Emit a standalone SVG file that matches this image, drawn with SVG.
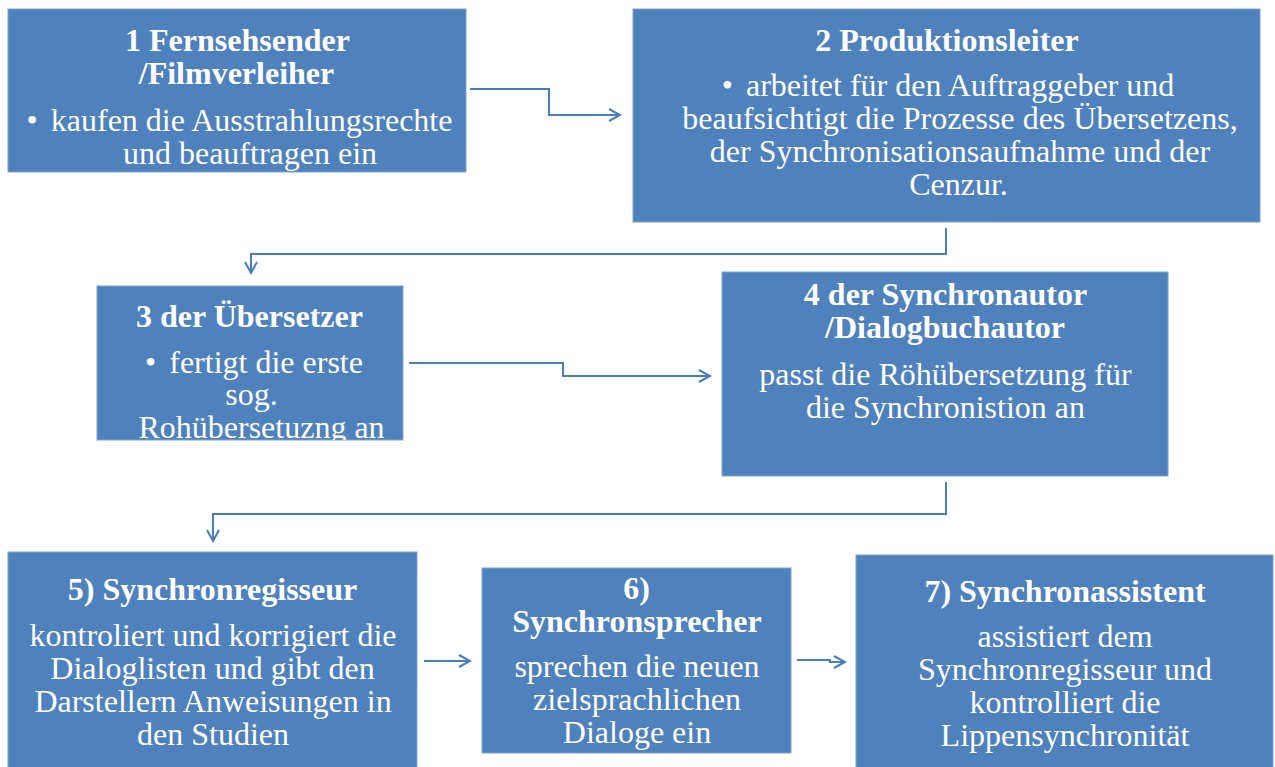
<svg xmlns="http://www.w3.org/2000/svg" width="1275" height="767" viewBox="0 0 1275 767">
<style>
.box{fill:#4F81BD;stroke:#7FA3CF;stroke-width:1}
.t{font-size:32px;fill:#FFFFFF;text-anchor:middle}
.b{font-weight:bold}
.c{fill:none;stroke:#4A7EBB;stroke-width:2}
</style>
<defs>
<marker id="ah" markerWidth="14" markerHeight="14" refX="12" refY="7" orient="auto" markerUnits="userSpaceOnUse">
<path d="M1,1 L12,7 L1,13" fill="none" stroke="#4A7EBB" stroke-width="2"/>
</marker>
<clipPath id="clip3"><rect x="97" y="286" width="306" height="154"/></clipPath>
</defs>
<rect width="1275" height="767" fill="#FFFFFF"/>
<g id="connectors">
<path class="c" d="M470,89 H549 V115 H620" marker-end="url(#ah)"/>
<path class="c" d="M946,228 V254 H251 V273" marker-end="url(#ah)"/>
<path class="c" d="M409,363 H563 V376 H710" marker-end="url(#ah)"/>
<path class="c" d="M946,482 V514 H213 V541" marker-end="url(#ah)"/>
<path class="c" d="M424,661 H470" marker-end="url(#ah)"/>
<path class="c" d="M797,660 H830 V662 H845" marker-end="url(#ah)"/>
</g>
<g font-family="Liberation Serif, serif">
<g id="node1">
<rect class="box" x="8" y="9" width="458" height="163"/>
<text class="t b" x="237.5" y="51">1 Fernsehsender</text>
<text class="t b" x="236.5" y="84">/Filmverleiher</text>
<text class="t" x="239.5" y="131">•<tspan dx="5"> kaufen die Ausstrahlungsrechte</tspan></text>
<text class="t" x="250" y="164">und beauftragen ein</text>
</g>
<g id="node2">
<rect class="box" x="633" y="9" width="627" height="213"/>
<text class="t b" x="947" y="51">2 Produktionsleiter</text>
<text class="t" x="948" y="96">•<tspan dx="5"> arbeitet für den Auftraggeber und</tspan></text>
<text class="t" x="960" y="129">beaufsichtigt die Prozesse des Übersetzens,</text>
<text class="t" x="960" y="162">der Synchronisationsaufnahme und der</text>
<text class="t" x="958.5" y="195">Cenzur.</text>
</g>
<g id="node3">
<rect class="box" x="97" y="286" width="306" height="154"/>
<g clip-path="url(#clip3)">
<text class="t b" x="249.5" y="327">3 der Übersetzer</text>
<text class="t" x="254" y="373">•<tspan dx="5"> fertigt die erste</tspan></text>
<text class="t" x="251.5" y="405">sog.</text>
<text class="t" x="261.5" y="438">Rohübersetuzng an</text>
</g>
</g>
<g id="node4">
<rect class="box" x="722" y="272" width="446" height="204"/>
<text class="t b" x="945.5" y="305">4 der Synchronautor</text>
<text class="t b" x="945" y="338">/Dialogbuchautor</text>
<text class="t" x="945.5" y="385">passt die Röhübersetzung für</text>
<text class="t" x="945.5" y="418">die Synchronistion an</text>
</g>
<g id="node5">
<rect class="box" x="8" y="552" width="409" height="220"/>
<text class="t b" x="212.5" y="600">5) Synchronregisseur</text>
<text class="t" x="213" y="646">kontroliert und korrigiert die</text>
<text class="t" x="212.5" y="679">Dialoglisten und gibt den</text>
<text class="t" x="213" y="712">Darstellern Anweisungen in</text>
<text class="t" x="213" y="745">den Studien</text>
</g>
<g id="node6">
<rect class="box" x="482" y="568" width="309" height="185"/>
<text class="t b" x="636.5" y="599">6)</text>
<text class="t b" x="637" y="632">Synchronsprecher</text>
<text class="t" x="637" y="677">sprechen die neuen</text>
<text class="t" x="637" y="710">zielsprachlichen</text>
<text class="t" x="637" y="743">Dialoge ein</text>
</g>
<g id="node7">
<rect class="box" x="856" y="555" width="417" height="217"/>
<text class="t b" x="1065" y="602">7) Synchronassistent</text>
<text class="t" x="1065" y="647">assistiert dem</text>
<text class="t" x="1065" y="680">Synchronregisseur und</text>
<text class="t" x="1065" y="713">kontrolliert die</text>
<text class="t" x="1065" y="746">Lippensynchronität</text>
</g>
</g>
</svg>
